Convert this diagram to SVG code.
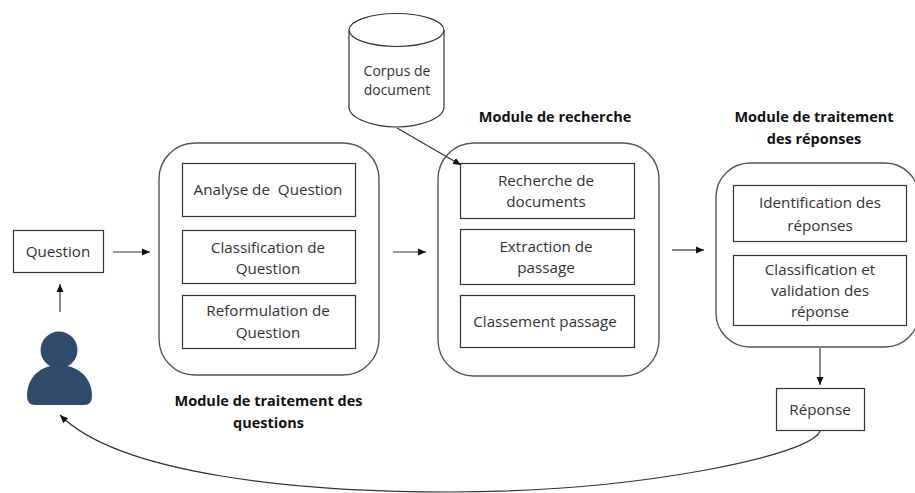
<svg xmlns="http://www.w3.org/2000/svg" width="915" height="493" viewBox="0 0 915 493">
<style>
text{font-family:"Open Sans","Noto Sans",sans-serif;font-size:15.2px;fill:#333;text-anchor:middle;white-space:pre}
.s{font-size:14px}
.t{font-weight:700;font-size:14.5px;fill:#111}
.b{fill:#fff;stroke:#333;stroke-width:1.2}
.m{fill:#fff;stroke:#555;stroke-width:1.4}
.c{fill:none;stroke:#333;stroke-width:1.2;marker-end:url(#a)}
</style>
<defs><marker id="a" markerUnits="userSpaceOnUse" markerWidth="9" markerHeight="9" refX="8" refY="4" orient="auto"><path d="M0 0.500L8 4L0 7.500Z" fill="#111"/></marker></defs>
<rect width="915" height="493" fill="#fff"/>
<g id="cylinder">
<path class="b" d="M349 30V107C349 119 375 127 396.500 127C418 127 444 119 444 107V30"/>
<ellipse class="b" cx="396.500" cy="30" rx="47.500" ry="16.500"/>
<text class="s" x="397" y="76">Corpus de</text><text class="s" x="397" y="95">document</text>
</g>
<g id="question"><rect class="b" x="13.500" y="230.500" width="90" height="42"/><text x="58" y="257">Question</text></g>
<g id="user"><circle cx="59" cy="350" r="18.500" fill="#2f4b6b"/><path d="M27 396C27 376 42 365 59 365C76 365 92 376 92 396Q92 405 84 405H35Q27 405 27 396Z" fill="#2f4b6b"/></g>
<g id="module-questions">
<rect class="m" x="159" y="143" width="220" height="232" rx="36"/>
<rect class="b" x="182.500" y="163.500" width="173" height="53"/><text x="268" y="195">Analyse de  Question</text>
<rect class="b" x="182.500" y="230.500" width="173" height="53"/><text x="268" y="253">Classification de</text><text x="268" y="274">Question</text>
<rect class="b" x="182.500" y="295.500" width="173" height="53"/><text x="268" y="316">Reformulation de</text><text x="268" y="338">Question</text>
</g>
<g id="module-recherche">
<rect class="m" x="438" y="143" width="221" height="233" rx="36"/>
<rect class="b" x="460.500" y="163.500" width="174" height="55"/><text x="546" y="186">Recherche de</text><text x="546" y="207">documents</text>
<rect class="b" x="460.500" y="229.500" width="174" height="55"/><text x="546" y="252">Extraction de</text><text x="546" y="273">passage</text>
<rect class="b" x="460.500" y="295.500" width="174" height="52"/><text x="545" y="327">Classement passage</text>
</g>
<g id="module-reponses">
<rect class="m" x="716" y="163" width="203" height="184" rx="34"/>
<rect class="b" x="733.500" y="185.500" width="173" height="56"/><text x="820" y="208">Identification des</text><text x="820" y="231">réponses</text>
<rect class="b" x="733.500" y="255.500" width="173" height="70"/><text x="820" y="275">Classification et</text><text x="820" y="296">validation des</text><text x="820" y="317">réponse</text>
</g>
<g id="reponse"><rect class="b" x="776.500" y="388.500" width="88" height="42"/><text x="820" y="415">Réponse</text></g>
<g id="titles">
<text class="t" x="555" y="122">Module de recherche</text>
<text class="t" x="814" y="122">Module de traitement</text><text class="t" x="814" y="144">des réponses</text>
<text class="t" x="268.500" y="406">Module de traitement des</text><text class="t" x="268.500" y="428">questions</text>
</g>
<g id="connectors">
<path class="c" d="M113 252H150"/>
<path class="c" d="M393 252H426"/>
<path class="c" d="M672 250H704"/>
<path class="c" d="M60 312V284"/>
<path class="c" d="M820 348V385"/>
<path class="c" d="M397 128L461 165"/>
<path class="c" d="M820 431C812 455 640 492 450 492C300 492 120 475 60 415"/>
</g>
</svg>
